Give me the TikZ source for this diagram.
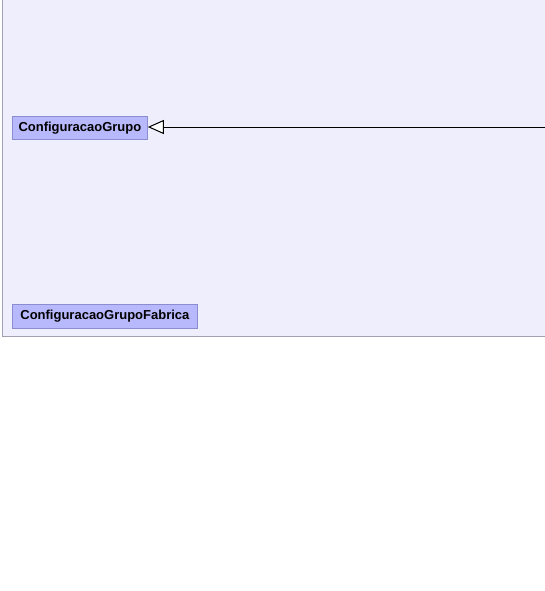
\documentclass[tikz,border=0pt]{standalone}
\usepackage{fontspec}
\setmainfont{Liberation Sans}
\usetikzlibrary{arrows.meta}
\definecolor{panelbg}{HTML}{EEEEFC}
\definecolor{panelbd}{HTML}{A0A0B0}
\definecolor{classbg}{HTML}{B8B8FC}
\definecolor{classbd}{HTML}{8C8CD0}
\tikzset{
  classbox/.style={draw=classbd, fill=classbg, line width=0.8pt, inner sep=0pt,
    anchor=north west, font=\fontsize{13}{15}\selectfont\bfseries, text=black},
  inherit/.style={draw=black, line width=1pt, -{Triangle[open, length=16pt, width=14pt, fill=white]}}
}
\begin{document}
\begin{tikzpicture}[x=1pt, y=-1pt]
\useasboundingbox (0,0) rectangle (545,591);
\fill[white] (0,0) rectangle (545,591);
\fill[panelbg] (2,0) rectangle (545,336);
\draw[panelbd, line width=1pt] (2,0) -- (2,336) -- (545,336);
\node[classbox, minimum width=135pt, minimum height=23pt] (cg) at (12,116) {ConfiguracaoGrupo};
\node[classbox, minimum width=185pt, minimum height=24pt] (cgf) at (12,304) {ConfiguracaoGrupoFabrica};
\coordinate (r) at (545,127);
\draw[inherit] (r) -- (r -| cg.east);
\end{tikzpicture}
\end{document}
